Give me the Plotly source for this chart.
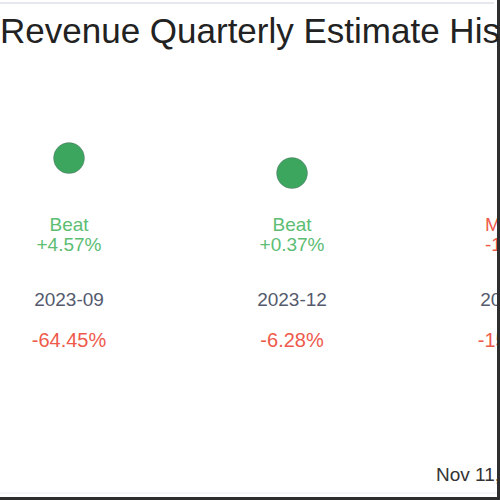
import plotly.graph_objects as go

# Quarterly revenue estimate history (last column is cut off in the reference)
quarters = ["2023-09", "2023-12", "2024-03"]
outcomes = ["Beat", "Beat", "Missed"]
surprise_pct = [4.57, 0.37, -1.25]
price_change_pct = [-64.45, -6.28, -15.10]
as_of = "Nov 11, 2024"

GREEN = "#3da65e"
GREEN_TXT = "#5cbd73"
RED = "#ee5a4c"
GRAY = "#555a6e"

x = list(range(len(quarters)))
dot_colors = [GREEN if o == "Beat" else RED for o in outcomes]
txt_colors = [GREEN_TXT if o == "Beat" else RED for o in outcomes]

fig = go.Figure()

# surprise dots
fig.add_trace(go.Scatter(
    x=x, y=surprise_pct, mode="markers",
    marker=dict(size=31, color=dot_colors,
                line=dict(width=1, color="rgba(90,90,110,0.35)")),
    cliponaxis=True, hoverinfo="skip",
))

# label rows (positions on a fixed 0-1 helper axis)
rows = [
    (outcomes, txt_colors, 19, 0.545),
    ([f"{v:+.2f}%" for v in surprise_pct], txt_colors, 19, 0.505),
    (quarters, [GRAY] * len(x), 19, 0.394),
    ([f"{v:+.2f}%" for v in price_change_pct],
     [GREEN_TXT if v >= 0 else RED for v in price_change_pct], 20, 0.311),
]
for labels, cols, size, ypos in rows:
    fig.add_trace(go.Scatter(
        x=x, y=[ypos] * len(x), mode="text", text=labels,
        textposition="middle center",
        textfont=dict(size=size, color=cols, family="Liberation Sans, Arial"),
        yaxis="y2", cliponaxis=True, hoverinfo="skip",
    ))

fig.update_layout(
    width=500, height=500,
    margin=dict(l=0, r=3, t=0, b=3),
    paper_bgcolor="white", plot_bgcolor="white",
    showlegend=False,
    font=dict(family="Liberation Sans, Arial", color="#333"),
    title=dict(text="Revenue Quarterly Estimate History",
               x=0, xref="container", xanchor="left",
               y=0.938, yref="container", yanchor="middle",
               font=dict(size=35, color="#222")),
    xaxis=dict(range=[-0.3094, 1.919], visible=False, fixedrange=True),
    yaxis=dict(range=[-90.35, 48.85], visible=False, fixedrange=True),
    yaxis2=dict(range=[0, 1], overlaying="y", visible=False, fixedrange=True),
    shapes=[
        dict(type="line", xref="paper", yref="paper", x0=0, x1=0.994,
             y0=0.994, y1=0.994, line=dict(color="#dde2e7", width=1.5)),
        dict(type="line", xref="paper", yref="paper", x0=0, x1=1,
             y0=0.008, y1=0.008, line=dict(color="#eceef1", width=1)),
        dict(type="rect", xref="paper", yref="paper", x0=1, x1=1.01,
             y0=-0.01, y1=1.01, line=dict(width=0), fillcolor="#2e2e2e"),
        dict(type="rect", xref="paper", yref="paper", x0=0, x1=1.01,
             y0=-0.01, y1=0, line=dict(width=0), fillcolor="#2e2e2e"),
    ],
    annotations=[
        dict(text=as_of, xref="paper", yref="paper", x=0.873, y=0.046,
             xanchor="left", yanchor="middle", showarrow=False,
             font=dict(size=19, color="#333")),
    ],
)

fig.write_html("out.html", config={"displayModeBar": False},
               post_script="document.body.style.margin='0';")
